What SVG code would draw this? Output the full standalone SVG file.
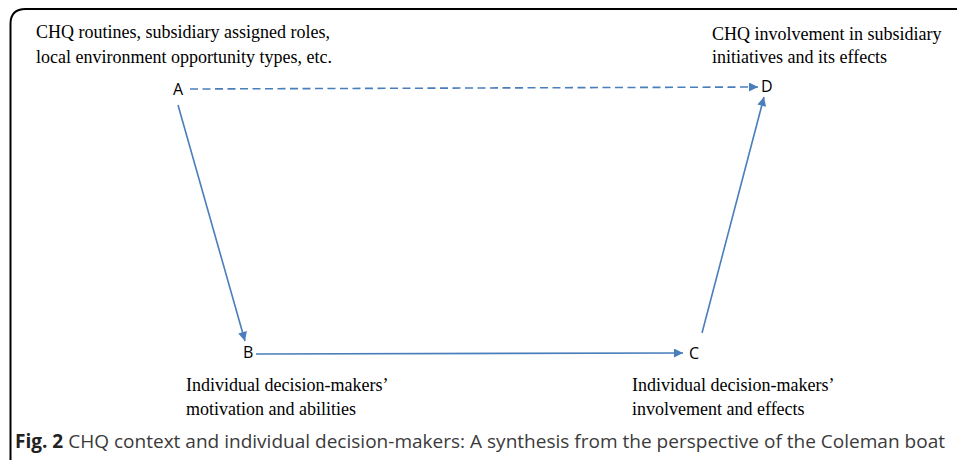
<svg xmlns="http://www.w3.org/2000/svg" width="957" height="460" viewBox="0 0 957 460">
<style>
.lbl{font-family:"Liberation Serif","Times New Roman",serif;font-size:18px;fill:#000}
.node{font-family:"Open Sans","Liberation Sans",sans-serif;font-size:16px;fill:#000}
.conn{stroke:#4a7ebb;stroke-width:1.6;fill:none}
.cap{font-family:"Open Sans","Liberation Sans",sans-serif;font-size:19px;fill:#3a3a3a}
</style>
<defs>
<marker id="ah2" viewBox="0 0 10 10" refX="10" refY="5" markerWidth="10" markerHeight="9" orient="auto" markerUnits="userSpaceOnUse">
<path d="M0,0 L10,5 L0,10 z" fill="#4a7ebb"/>
</marker>
</defs>
<rect width="957" height="460" fill="#fff"/>
<path d="M10.5,460 L10.5,24 Q10.5,9 25.5,9 L957,9" fill="none" stroke="#000" stroke-width="2"/>
<g id="connectors">
<line class="conn" x1="190" y1="89" x2="758" y2="87" stroke-dasharray="8,4.5" marker-end="url(#ah2)"/>
<line class="conn" x1="178" y1="105" x2="245" y2="341" marker-end="url(#ah2)"/>
<line class="conn" x1="256" y1="354" x2="683" y2="353" marker-end="url(#ah2)"/>
<line class="conn" x1="702" y1="333" x2="764" y2="97" marker-end="url(#ah2)"/>
</g>
<g id="node-A">
<text class="node" x="173" y="95">A</text>
<text class="lbl" x="36" y="38">CHQ routines, subsidiary assigned roles,</text>
<text class="lbl" x="36" y="63">local environment opportunity types, etc.</text>
</g>
<g id="node-B">
<text class="node" x="243" y="358">B</text>
<text class="lbl" x="186" y="391">Individual decision-makers’</text>
<text class="lbl" x="186" y="415">motivation and abilities</text>
</g>
<g id="node-C">
<text class="node" x="689" y="359">C</text>
<text class="lbl" x="632" y="391">Individual decision-makers’</text>
<text class="lbl" x="632" y="415">involvement and effects</text>
</g>
<g id="node-D">
<text class="node" x="761" y="92">D</text>
<text class="lbl" x="712" y="40">CHQ involvement in subsidiary</text>
<text class="lbl" x="712" y="63">initiatives and its effects</text>
</g>
<text class="cap" x="15" y="448" textLength="930" lengthAdjust="spacingAndGlyphs"><tspan font-weight="bold" fill="#222">Fig. 2</tspan> CHQ context and individual decision-makers: A synthesis from the perspective of the Coleman boat</text>
</svg>
